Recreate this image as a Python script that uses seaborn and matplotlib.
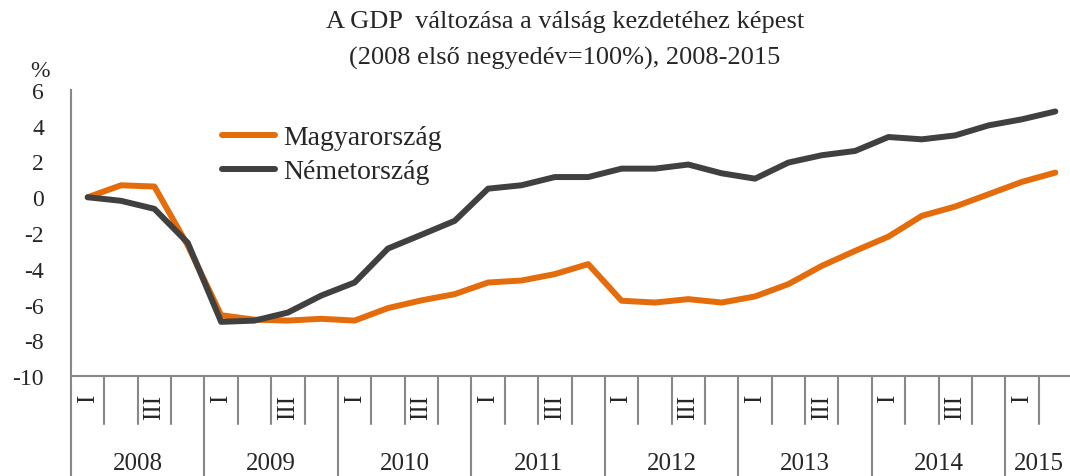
import numpy as np
import pandas as pd
import matplotlib
matplotlib.use("Agg")
import matplotlib.pyplot as plt
import matplotlib.transforms as mtransforms
import seaborn as sns

sns.set_style("white")
plt.rcParams["font.family"] = ["Liberation Serif", "DejaVu Serif"]

# adatok (2008 Q1 = 100%, eltérés %-ban)
years = ["2008", "2009", "2010", "2011", "2012", "2013", "2014", "2015"]
quarter_labels = ["I", "", "III", ""]
hungary = [0.0, 0.67, 0.6, -2.7, -6.6, -6.85, -6.9, -6.8, -6.9, -6.2,
           -5.77, -5.42, -4.77, -4.66, -4.3, -3.74, -5.79, -5.89, -5.7, -5.89,
           -5.55, -4.86, -3.84, -3.0, -2.2, -1.04, -0.52, 0.17, 0.86, 1.38]
germany = [0.0, -0.2, -0.65, -2.55, -6.97, -6.9, -6.45, -5.5, -4.77, -2.87,
           -2.1, -1.32, 0.48, 0.67, 1.13, 1.13, 1.6, 1.6, 1.83, 1.34,
           1.04, 1.94, 2.35, 2.59, 3.37, 3.24, 3.46, 4.02, 4.36, 4.8]
series_names = ["Magyarország", "Németország"]
colors = ["#E46C0A", "#404040"]

n = len(hungary)
df = pd.DataFrame({
    "idx": list(range(n)) * 2,
    "value": hungary + germany,
    "country": [series_names[0]] * n + [series_names[1]] * n,
})

fig = plt.figure(figsize=(10.7, 4.77), dpi=100)
ax = fig.add_axes([71 / 1070, 1 - 377 / 477, 1001 / 1070, 286 / 477])

sns.lineplot(data=df, x="idx", y="value", hue="country", palette=colors,
             linewidth=4.3, ax=ax, solid_capstyle="round")

axis_col = "#888888"
ax.set_xlim(-0.5, n - 0.5)
ax.set_ylim(-10, 6)
ax.set_yticks(range(-10, 7, 2))
ax.set_yticklabels([str(v) for v in range(-10, 7, 2)], fontsize=17)
ax.tick_params(axis="y", length=6.5, width=1.5, color=axis_col, pad=13)
ax.set_xticks([])
ax.set_xlabel("")
ax.set_ylabel("")
for s in ["top", "right"]:
    ax.spines[s].set_visible(False)
for s in ["left", "bottom"]:
    ax.spines[s].set_color(axis_col)
    ax.spines[s].set_linewidth(1.5)

# kategória-tengely: negyedévek és évek
trans = mtransforms.blended_transform_factory(ax.transData, ax.transAxes)
ax_h = 286
for k in range(n + 1):
    x = k - 0.5
    bottom = -100 / ax_h if k % 4 == 0 or k == n else -48 / ax_h
    ax.plot([x, x], [0, bottom], color=axis_col, lw=1.5, transform=trans,
            clip_on=False)
for k in range(n):
    lab = quarter_labels[k % 4]
    if lab:
        ax.text(k, -18 / ax_h, lab, rotation=90, ha="center", va="top",
                fontsize=18, transform=trans)
for i, yr in enumerate(years):
    start = i * 4
    end = min(start + 4, n)
    ax.text((start + end - 1) / 2, -87 / ax_h, yr, ha="center",
            va="center", fontsize=18, transform=trans)

ax.text(-31 / 1001, 1 + 9 / ax_h, "%", transform=ax.transAxes, fontsize=17,
        ha="center", va="bottom")

leg = ax.legend(loc="upper left", bbox_to_anchor=(151 / 1001, (377 - 126) / ax_h),
                frameon=False, fontsize=20, handlelength=1.9,
                handletextpad=0.3, labelspacing=0.3, borderpad=0,
                borderaxespad=0)
for line in leg.get_lines():
    line.set_linewidth(4.3)

fig.text(565 / 1070, 1 - 22 / 477,
         "A GDP  változása a válság kezdetéhez képest",
         ha="center", va="center", fontsize=19)
fig.text(565 / 1070, 1 - 58 / 477,
         "(2008 első negyedév=100%), 2008-2015",
         ha="center", va="center", fontsize=19)

fig.savefig("out.png", dpi=100)
